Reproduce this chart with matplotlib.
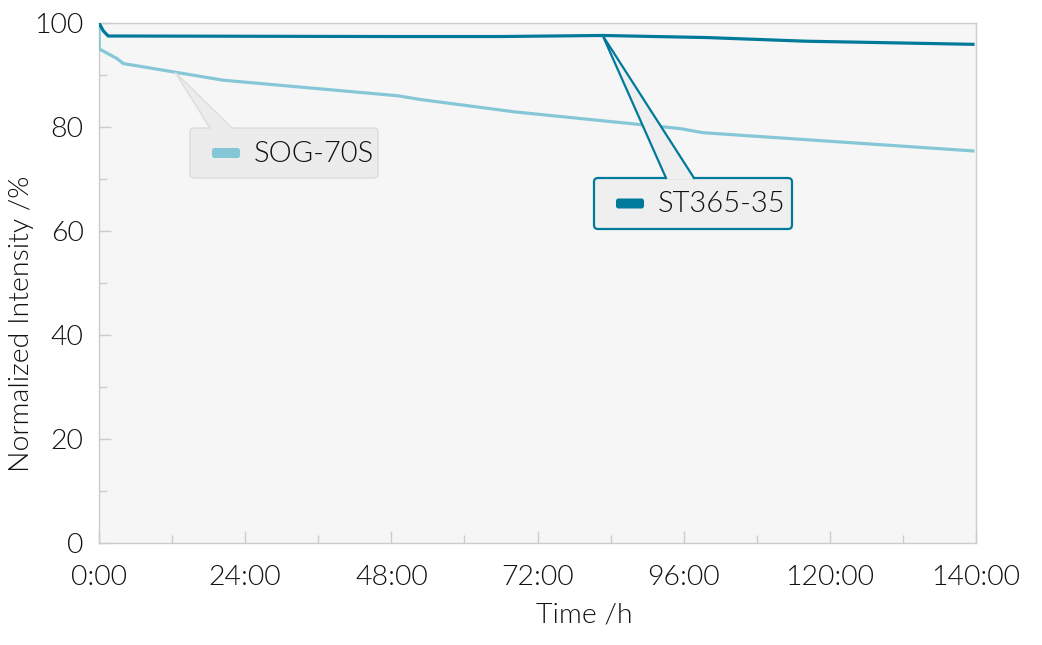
import matplotlib
matplotlib.use("Agg")
import matplotlib.pyplot as plt
import numpy as np
from matplotlib.patches import FancyBboxPatch, Polygon

plt.rcParams["font.family"] = ["Lato", "DejaVu Sans"]
plt.rcParams["font.weight"] = 300

# data (hours, normalized intensity %)
sog_hours = [0, 0.05, 2.9, 4.0, 20.4, 49.1, 52.7, 68.3, 95.4, 99.2, 143.5]
sog_values = [100, 95.0, 93.2, 92.2, 89.0, 86.0, 85.3, 82.9, 79.7, 78.9, 75.4]
st_hours = [0, 0.7, 1.5, 48.0, 66.0, 82.7, 99.8, 116.0, 143.5]
st_values = [100, 98.5, 97.5, 97.4, 97.4, 97.6, 97.2, 96.5, 95.9]
series_names = ["SOG-70S", "ST365-35"]

x_ticks = [0, 24, 48, 72, 96, 120, 144]
x_tick_labels = ["0:00", "24:00", "48:00", "72:00", "96:00", "120:00", "140:00"]
x_minor = [12, 36, 60, 84, 108, 132]
y_ticks = [0, 20, 40, 60, 80, 100]
y_minor = [10, 30, 50, 70, 90]

LIGHT = "#86c7d7"
DARK = "#007a9a"
TXT = "#111111"
GRID = "#cccccc"
W, H = 1042, 645
FS = 20.5

fig = plt.figure(figsize=(W / 100, H / 100), dpi=100)
ax = fig.add_axes([99 / W, 1 - 543 / H, 877 / W, 520 / H])
ax.set_facecolor("#f6f6f6")

ax.plot(sog_hours, sog_values, color=LIGHT, lw=2.3, solid_joinstyle="round", zorder=3)
ax.plot(st_hours, st_values, color=DARK, lw=2.3, solid_joinstyle="round", zorder=4)

ax.set_xlim(0, 144)
ax.set_ylim(0, 100)
ax.set_xticks(x_ticks)
ax.set_xticklabels(x_tick_labels)
ax.set_xticks(x_minor, minor=True)
ax.set_yticks(y_ticks)
ax.set_yticks(y_minor, minor=True)
for s in ax.spines.values():
    s.set_color(GRID)
    s.set_linewidth(1)
ax.tick_params(which="major", direction="in", length=8.6, width=1, color=GRID,
               labelsize=FS, labelcolor=TXT)
ax.tick_params(which="minor", direction="in", length=5.8, width=1, color=GRID)
ax.tick_params(axis="x", pad=16)
ax.tick_params(axis="y", pad=11)

fig.text(22 / W, 1 - 324 / H, "Normalized Intensity /%", rotation=90, ha="center",
         va="center", fontsize=FS, color=TXT)
fig.text(584 / W, 1 - 615 / H, "Time /h", ha="center", va="center", fontsize=FS, color=TXT)

# overlay in pixel coords for the callouts
ov = fig.add_axes([0, 0, 1, 1])
ov.set_xlim(0, W)
ov.set_ylim(H, 0)
ov.axis("off")
ov.patch.set_visible(False)


def to_px(x, y):
    px, py = ax.transData.transform((x, y))
    return px, H - py


def callout(box, base, tip, face, edge, elw, swatch_col, label):
    x0, y0, x1, y1 = box
    ov.add_patch(FancyBboxPatch((x0, y0), x1 - x0, y1 - y0,
                                boxstyle="round,pad=0,rounding_size=4",
                                fc=face, ec=edge, lw=elw, zorder=5))
    tri = [(base[0], y0 + 1.5), (base[1], y0 + 1.5), tip]
    ov.add_patch(Polygon(tri, closed=True, fc=face, ec="none", zorder=6))
    ov.plot([base[0], tip[0], base[1]], [y0, tip[1], y0], color=edge, lw=elw,
            solid_joinstyle="miter", zorder=7)
    ym = (y0 + y1) / 2
    ov.add_patch(FancyBboxPatch((x0 + 22, ym - 5), 28, 10,
                                boxstyle="round,pad=0,rounding_size=2.5",
                                fc=swatch_col, ec="none", zorder=8))
    ov.text(x0 + 64, ym + 1, label, ha="left", va="center", fontsize=FS + 0.5,
            color=TXT, zorder=8)


# tip of SOG callout sits on the SOG curve at ~12.5 h
sog_tip_h = 12.5
tip1 = to_px(sog_tip_h, np.interp(sog_tip_h, sog_hours, sog_values))
callout((190, 128, 378, 178), (210, 232), tip1, "#ececec", "#dcdcdc", 1.0, LIGHT,
        series_names[0])

tip2 = to_px(st_hours[5], st_values[5])
callout((594, 178, 792, 229), (666, 694), tip2, "#efefef", DARK, 1.6, DARK,
        series_names[1])

fig.savefig("out.png", dpi=100)
